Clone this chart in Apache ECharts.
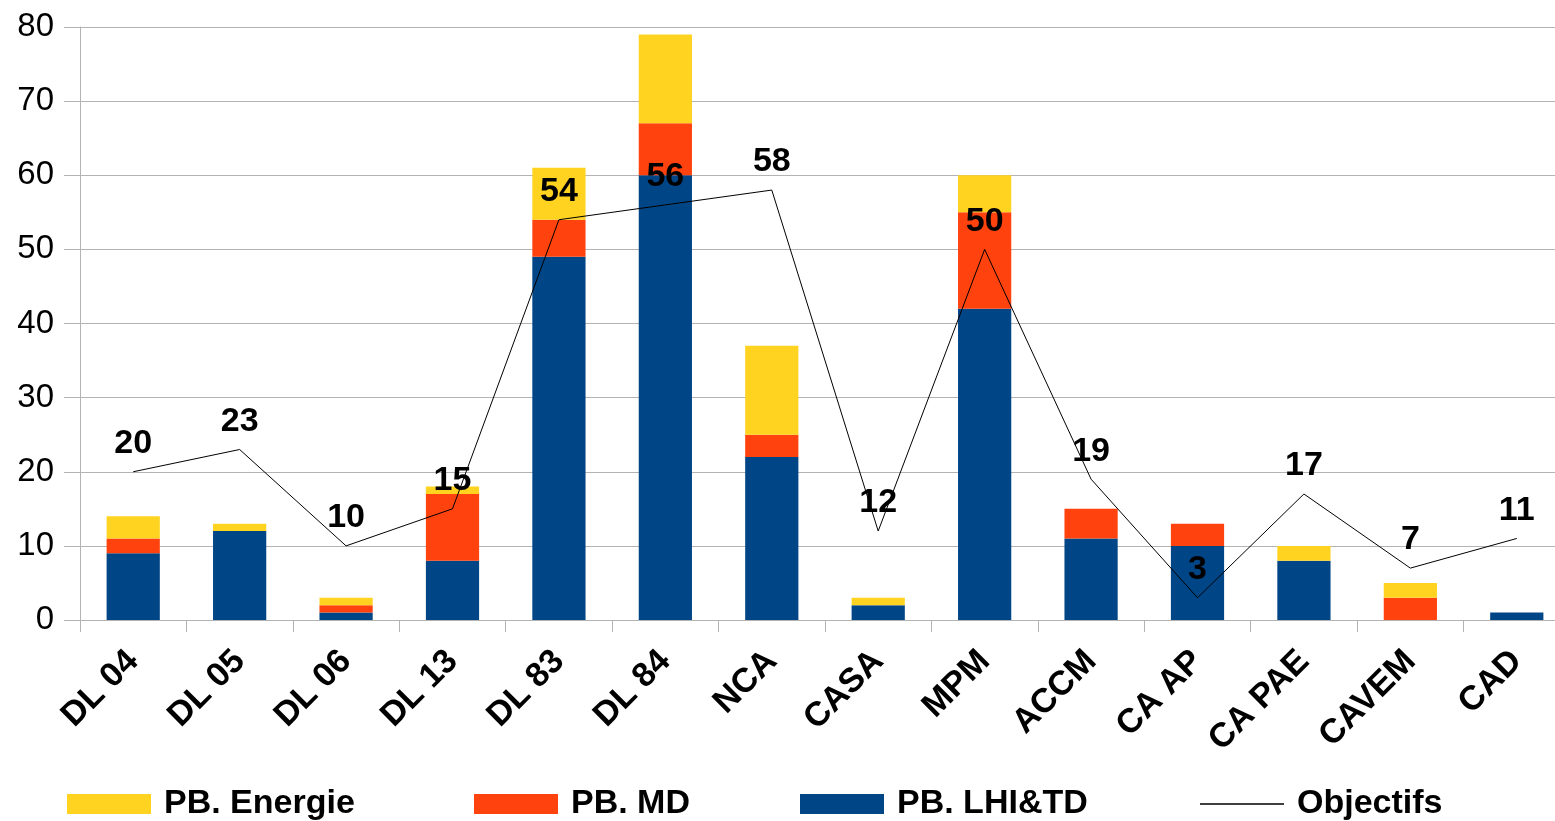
<!DOCTYPE html>
<html>
<head>
<meta charset="utf-8">
<script src="https://cdn.jsdelivr.net/npm/echarts@6/dist/echarts.min.js"></script>
<style>
  html, body { margin: 0; padding: 0; background: #fff; }
  #chart { width: 1555px; height: 821px; }
</style>
</head>
<body>
<div id="chart"></div>
<script>
var categories = ['DL 04', 'DL 05', 'DL 06', 'DL 13', 'DL 83', 'DL 84', 'NCA', 'CASA', 'MPM', 'ACCM', 'CA AP', 'CA PAE', 'CAVEM', 'CAD'];
var lhiTd    = [9, 12, 1, 8, 49, 60, 22, 2, 42, 11, 10, 8, 0, 1];
var md       = [2, 0, 1, 9, 5, 7, 3, 0, 13, 4, 3, 0, 3, 0];
var energie  = [3, 1, 1, 1, 7, 12, 12, 1, 5, 0, 0, 2, 2, 0];
var objectifs = [20, 23, 10, 15, 54, 56, 58, 12, 50, 19, 3, 17, 7, 11];

var font = '"Liberation Sans", Arial, sans-serif';
var chart = echarts.init(document.getElementById('chart'));

// thin horizontal line icon, with tiny corner marks so it is not stretched
var lineIcon = 'path://M0,0L0.01,0L0.01,0.01Z M0,9.3L84,9.3L84,10.7L0,10.7Z M83.99,19.99L84,20L83.99,20Z';

// one legend block per item so each sits where the original puts it
function legendItem(name, left, icon) {
  return {
    data: [{ name: name, icon: icon }],
    left: left,
    top: 782,
    itemWidth: 84,
    itemHeight: 20,
    textStyle: { fontFamily: font, fontSize: 34, fontWeight: 'bold', color: '#000', padding: [0, 0, 0, 8] }
  };
}

var option = {
  animation: false,
  textStyle: { fontFamily: font },
  grid: { left: 80, top: 27, width: 1490, bottom: 201, containLabel: false, outerBoundsMode: 'none' },
  legend: [
    legendItem('PB. Energie', 62, 'rect'),
    legendItem('PB. MD', 469, 'rect'),
    legendItem('PB. LHI&TD', 795, 'rect'),
    legendItem('Objectifs', 1195, lineIcon)
  ],
  xAxis: {
    type: 'category',
    data: categories,
    axisLine: { lineStyle: { color: '#b3b3b3' } },
    axisTick: { show: true, length: 12, lineStyle: { color: '#b3b3b3' } },
    axisLabel: {
      rotate: 45, interval: 0, margin: 36,
      fontFamily: font, fontSize: 34, fontWeight: 'bold', color: '#000'
    }
  },
  yAxis: {
    type: 'value',
    min: 0, max: 80, interval: 10,
    axisLine: { show: true, lineStyle: { color: '#b3b3b3' } },
    axisTick: { show: true, length: 16, lineStyle: { color: '#b3b3b3' } },
    splitLine: { lineStyle: { color: '#b3b3b3' } },
    axisLabel: { margin: 26, fontFamily: font, fontSize: 33, color: '#000' }
  },
  series: [
    { name: 'PB. LHI&TD', type: 'bar', stack: 'pb', data: lhiTd, barWidth: '50%', itemStyle: { color: '#004586' } },
    { name: 'PB. MD', type: 'bar', stack: 'pb', data: md, itemStyle: { color: '#ff420e' } },
    { name: 'PB. Energie', type: 'bar', stack: 'pb', data: energie, itemStyle: { color: '#ffd320' } },
    {
      name: 'Objectifs', type: 'line', data: objectifs,
      symbol: 'circle', symbolSize: 0, showSymbol: true, z: 5,
      lineStyle: { color: '#000', width: 1 },
      itemStyle: { color: '#000' },
      label: {
        show: true, position: 'top', distance: 11,
        fontFamily: font, fontSize: 34, fontWeight: 'bold', color: '#000'
      }
    }
  ]
};
chart.setOption(option);
</script>
</body>
</html>
